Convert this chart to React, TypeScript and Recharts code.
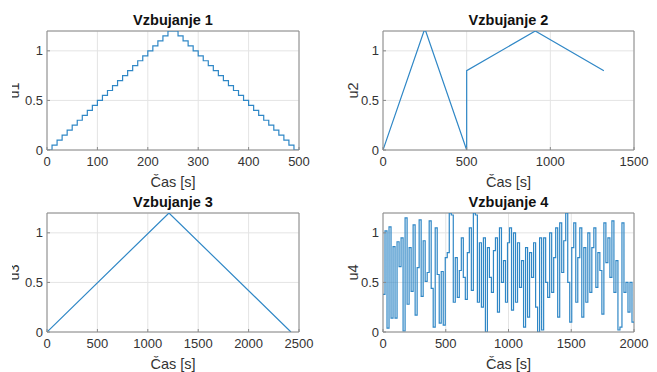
import { LineChart, Line, XAxis, YAxis, CartesianGrid, ReferenceLine } from "recharts";

// Vzbujanje 1: staircase, 0.05 steps every 10 s
const u1Time = [
  0, 10, 20, 30, 40, 50, 60, 70, 80, 90, 100, 110, 120, 130, 140, 150, 160, 170, 180, 190, 200,
  210, 220, 230, 240, 250, 260, 270, 280, 290, 300, 310, 320, 330, 340, 350, 360, 370, 380, 390,
  400, 410, 420, 430, 440, 450, 460, 470, 480, 490, 500,
];
const u1Values = [
  0, 0.05, 0.1, 0.15, 0.2, 0.25, 0.3, 0.35, 0.4, 0.45, 0.5, 0.55, 0.6, 0.65, 0.7, 0.75, 0.8, 0.85,
  0.9, 0.95, 1.0, 1.05, 1.1, 1.15, 1.2, 1.2, 1.15, 1.1, 1.05, 1.0, 0.95, 0.9, 0.85, 0.8, 0.75, 0.7,
  0.65, 0.6, 0.55, 0.5, 0.45, 0.4, 0.35, 0.3, 0.25, 0.2, 0.15, 0.1, 0.05, 0, 0,
];

// Vzbujanje 2
const u2Time = [0, 245, 255, 500, 500, 910, 1320];
const u2Values = [0, 1.2, 1.2, 0, 0.8, 1.2, 0.8];

// Vzbujanje 3
const u3Time = [0, 1210, 2420];
const u3Values = [0, 1.2, 0];

// Vzbujanje 4: held random levels, one every 16 s
const u4Step = 16;
const u4Values = [
  0.38, 1.02, 0.04, 1.06, 0.14, 0.86, 0.14, 0.91, 0.66, 0.95, 0.01, 1.15, 0.28, 0.85, 0.41, 1.08,
  0.17, 0.65, 1.13, 0.36, 0.92, 0.51, 0.6, 1.12, 0.44, 0.05, 1.05, 0.58, 0.09, 0.61, 0.07, 0.75,
  0.8, 1.2, 1.18, 0.3, 0.75, 0.35, 0.62, 0.95, 0.55, 0.33, 0.8, 1.05, 0.42, 1.2, 1.18, 0.3,
  0.9, 0.25, 0.95, 0.0, 0.85, 0.55, 0.4, 0.82, 0.95, 0.2, 1.05, 0.5, 0.72, 0.3, 0.9,
  1.05, 0.22, 1.0, 0.3, 0.9, 0.45, 0.72, 0.05, 0.85, 0.15, 0.8, 0.55, 0.9, 0.25, 0.0, 0.95,
  0.02, 0.95, 0.5, 0.35, 1.0, 0.4, 0.75, 1.05, 0.15, 1.1, 0.6, 0.92, 1.2, 0.5, 0.1,
  0.85, 1.1, 0.3, 0.75, 1.05, 0.15, 0.85, 0.3, 1.0, 0.4, 0.85, 1.05, 0.45, 0.8, 0.62, 0.18,
  1.1, 0.7, 0.95, 0.55, 1.12, 0.4, 0.72, 0.02, 0.05, 1.1, 0.4, 0.5, 0.2, 0.5, 0.1, 0.1,
];

const yTicks = [0, 0.5, 1];
const u1Ticks = [0, 100, 200, 300, 400, 500];
const u2Ticks = [0, 500, 1000, 1500];
const u3Ticks = [0, 500, 1000, 1500, 2000, 2500];
const u4Ticks = [0, 500, 1000, 1500, 2000];

const toRows = (time: number[], values: number[]) => time.map((t, i) => ({ t, u: values[i] }));

const u1Data = toRows(u1Time, u1Values);
const u2Data = toRows(u2Time, u2Values);
const u3Data = toRows(u3Time, u3Values);
const u4Data = u4Values.map((u, i) => ({ t: i * u4Step, u }));

const FONT = "Arial, 'Liberation Sans', Helvetica, sans-serif";
const BOX = "#8a8a8a";
const LINE = "#2f87c6";
const CHART_H = 190;

type PanelProps = {
  left: number;
  top: number;
  width: number;
  plotLeft: number;
  plotRight: number;
  data: { t: number; u: number }[];
  xMax: number;
  xTicks: number[];
  title: string;
  yLabel: string;
  labelX: number;
  stepped?: boolean;
};

function Panel({ left, top, width, plotLeft, plotRight, data, xMax, xTicks, title, yLabel, labelX, stepped }: PanelProps) {
  return (
    <>
      <div style={{ position: "absolute", left, top }}>
        <LineChart
          width={width}
          height={CHART_H}
          data={data}
          margin={{ top: 31, right: width - plotRight, left: 0, bottom: 0 }}
        >
          <CartesianGrid stroke="#e4e4e4" />
          <XAxis
            dataKey="t"
            type="number"
            domain={[0, xMax]}
            ticks={xTicks}
            interval={0}
            allowDataOverflow
            height={40}
            stroke={BOX}
            tickSize={-3}
            tickMargin={10}
            tick={{ fontSize: 13, fill: "#333" }}
          />
          <YAxis
            type="number"
            domain={[0, 1.2]}
            ticks={yTicks}
            interval={0}
            allowDataOverflow
            width={plotLeft}
            stroke={BOX}
            tickSize={-3}
            tickMargin={7}
            tick={{ fontSize: 13, fill: "#333" }}
          />
          <ReferenceLine y={1.2} stroke={BOX} />
          <ReferenceLine x={xMax} stroke={BOX} />
          <Line
            dataKey="u"
            type={stepped ? "stepAfter" : "linear"}
            stroke={LINE}
            strokeWidth={1.2}
            dot={false}
            isAnimationActive={false}
          />
        </LineChart>
      </div>
      <div
        style={{
          position: "absolute",
          left: left + plotLeft,
          top: top + 12,
          width: plotRight - plotLeft,
          textAlign: "center",
          fontWeight: "bold",
          fontSize: 14.5,
          lineHeight: "17px",
          color: "#111",
        }}
      >
        {title}
      </div>
      <div
        style={{
          position: "absolute",
          left: left + plotLeft,
          top: top + 174,
          width: plotRight - plotLeft,
          textAlign: "center",
          fontSize: 14.5,
          lineHeight: "17px",
          color: "#333",
        }}
      >
        Čas [s]
      </div>
      <div
        style={{
          position: "absolute",
          left: left + labelX - 20,
          top: top + 31 + 59.5 - 8.5,
          width: 40,
          height: 17,
          textAlign: "center",
          fontSize: 14.5,
          lineHeight: "17px",
          color: "#333",
          transform: "rotate(-90deg)",
        }}
      >
        {yLabel}
      </div>
    </>
  );
}

export default function App() {
  return (
    <div
      style={{
        position: "absolute",
        left: 0,
        top: 0,
        width: 657,
        height: 372,
        background: "#fff",
        fontFamily: FONT,
        overflow: "hidden",
      }}
    >
      <Panel left={0} top={0} width={330} plotLeft={47} plotRight={299} data={u1Data} xMax={500} xTicks={u1Ticks} title="Vzbujanje 1" yLabel="u1" labelX={14} stepped />
      <Panel left={330} top={0} width={327} plotLeft={53} plotRight={304} data={u2Data} xMax={1500} xTicks={u2Ticks} title="Vzbujanje 2" yLabel="u2" labelX={23} />
      <Panel left={0} top={182} width={330} plotLeft={47} plotRight={299} data={u3Data} xMax={2500} xTicks={u3Ticks} title="Vzbujanje 3" yLabel="u3" labelX={14} />
      <Panel left={330} top={182} width={327} plotLeft={53} plotRight={304} data={u4Data} xMax={2000} xTicks={u4Ticks} title="Vzbujanje 4" yLabel="u4" labelX={23} stepped />
      {/* left edge of the original figure is cropped */}
      <div style={{ position: "absolute", left: 0, top: 0, width: 12, height: 372, background: "#fff" }} />
    </div>
  );
}
